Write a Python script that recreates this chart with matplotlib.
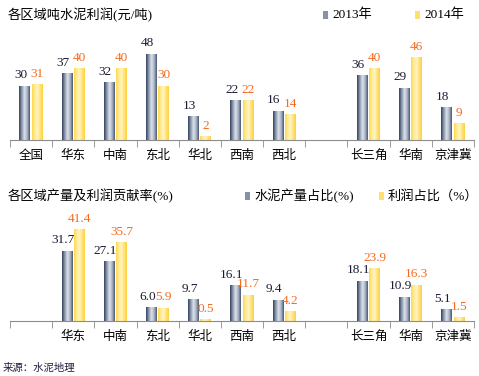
import numpy as np
import matplotlib.pyplot as plt
from matplotlib.colors import LinearSegmentedColormap
from matplotlib.patches import Rectangle

plt.rcParams['font.family'] = ['Liberation Serif', 'Noto Sans CJK SC']

# 数据
cats_top = ['全国', '华东', '中南', '东北', '华北', '西南', '西北', '', '长三角', '华南', '京津冀']
profit_2013 = [30, 37, 32, 48, 13, 22, 16, None, 36, 29, 18]
profit_2014 = [31, 40, 40, 30, 2, 22, 14, None, 40, 46, 9]

cats_bot = ['', '华东', '中南', '东北', '华北', '西南', '西北', '', '长三角', '华南', '京津冀']
output_share = [None, 31.7, 27.1, 6.0, 9.7, 16.1, 9.4, None, 18.1, 10.9, 5.1]
profit_share = [None, 41.4, 35.7, 5.9, 0.5, 11.7, 4.2, None, 23.9, 16.3, 1.5]

gray_cmap = LinearSegmentedColormap.from_list(
    'g', ['#34425e', '#8a97ad', '#dde3ec', '#a9b4c5', '#4a5874'])
yellow_cmap = LinearSegmentedColormap.from_list(
    'y', ['#ffd84e', '#ffeb94', '#fff4c4', '#ffe27a', '#ffd140'])
grad = np.linspace(0, 1, 64).reshape(1, -1)

W = 0.26
OFF = 0.145


def draw(ax, cats, s1, s2, ymax, fmt):
    x = np.arange(len(cats))
    for vals, off, cmap, col, dx in [(s1, -OFF, gray_cmap, '#1b1b33', -3),
                                     (s2, OFF, yellow_cmap, '#f46a1e', 0)]:
        for xi, v in zip(x, vals):
            if v is None:
                continue
            ax.bar(xi + off, v, W, color='none', linewidth=0)
            ax.imshow(grad, extent=[xi + off - W / 2, xi + off + W / 2, 0, v],
                      aspect='auto', cmap=cmap, zorder=2)
            ax.annotate(fmt.format(v), (xi + off, v), xytext=(dx, 3.5),
                        textcoords='offset points', ha='center', va='bottom',
                        fontsize=9.5, color=col, zorder=3)
    ax.set_xlim(-0.5, len(cats) - 0.5)
    ax.set_ylim(0, ymax)
    for s in ['top', 'right', 'left']:
        ax.spines[s].set_visible(False)
    ax.spines['bottom'].set_color('#8c8c8c')
    ax.set_yticks([])
    ax.set_xticks(x)
    ax.set_xticklabels(cats, fontsize=9)
    ax.tick_params(axis='x', which='major', length=0, pad=7)
    ax.set_xticks(np.arange(len(cats) + 1) - 0.5, minor=True)
    ax.tick_params(axis='x', which='minor', length=5, color='#8c8c8c')


fig = plt.figure(figsize=(4.79, 3.76), dpi=100)

ax1 = fig.add_axes([10 / 479, 1 - 140 / 376, 464 / 479, 107.4 / 376])
draw(ax1, cats_top, profit_2013, profit_2014, 60, '{:.0f}')

ax2 = fig.add_axes([10 / 479, 1 - 321 / 376, 464 / 479, 99 / 376])
draw(ax2, cats_bot, output_share, profit_share, 45, '{:.1f}')


def px(x, y):
    return x / 479, 1 - y / 376


fig.text(*px(8, 15), '各区域吨水泥利润(元/吨)', fontsize=9.5, va='center')
fig.text(*px(8, 196), '各区域产量及利润贡献率(%)', fontsize=9.5, va='center')
fig.text(*px(3, 368), '来源：水泥地理', fontsize=7.5, va='center', color='#1e1e3c')

# 图例
legend_items = [(323, 15, '#8592a8', '2013年'), (415, 15, '#ffdf70', '2014年'),
                (245, 196, '#8592a8', '水泥产量占比(%)'), (379, 196, '#ffdf70', '利润占比（%）')]
for lx, ly, c, t in legend_items:
    x0, y0 = px(lx, ly + 4)
    fig.patches.append(Rectangle((x0, y0), 5 / 479, 8 / 376, transform=fig.transFigure,
                                 facecolor=c, edgecolor='none'))
    fig.text(*px(lx + 9, ly), t, fontsize=9.5, va='center')

fig.savefig('out.png', dpi=100)
